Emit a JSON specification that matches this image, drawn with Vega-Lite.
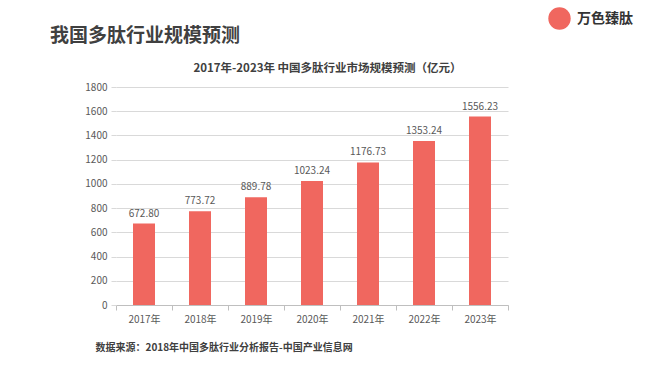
{
  "$schema": "https://vega.github.io/schema/vega-lite/v6.json",
  "width": 392,
  "height": 218,
  "autosize": {"type": "none"},
  "padding": {"left": 116, "top": 87, "right": 142, "bottom": 61},
  "background": "white",
  "config": {"font": "Noto Sans CJK SC", "view": {"stroke": null}},
  "title": {
    "text": "我国多肽行业规模预测",
    "anchor": "start",
    "frame": "group",
    "dx": -66,
    "offset": -39,
    "fontSize": 19,
    "fontWeight": "bold",
    "color": "#404040"
  },
  "data": {
    "values": [
      {"year": "2017年", "value": 672.80, "brand": "万色臻肽"},
      {"year": "2018年", "value": 773.72, "brand": "万色臻肽"},
      {"year": "2019年", "value": 889.78, "brand": "万色臻肽"},
      {"year": "2020年", "value": 1023.24, "brand": "万色臻肽"},
      {"year": "2021年", "value": 1176.73, "brand": "万色臻肽"},
      {"year": "2022年", "value": 1353.24, "brand": "万色臻肽"},
      {"year": "2023年", "value": 1556.23, "brand": "万色臻肽"}
    ]
  },
  "encoding": {
    "x": {
      "field": "year",
      "type": "ordinal",
      "scale": {"paddingInner": 0, "paddingOuter": 0},
      "axis": {
        "title": "数据来源：2018年中国多肽行业分析报告-中国产业信息网",
        "titleAnchor": "start",
        "titleX": -21,
        "titleY": 42,
        "titleAlign": "left",
        "titleBaseline": "middle",
        "titleFontSize": 10,
        "titleFontWeight": "bold",
        "titleColor": "#404040",
        "labelAngle": 0,
        "labelFontSize": 10,
        "labelColor": "#595959",
        "labelPadding": 4,
        "domainColor": "#bfbfbf",
        "tickColor": "#bfbfbf",
        "tickBand": "extent",
        "tickSize": 5
      }
    },
    "y": {
      "field": "value",
      "type": "quantitative",
      "scale": {"domain": [0, 1800]},
      "axis": {
        "title": "2017年-2023年 中国多肽行业市场规模预测（亿元）",
        "titleAngle": 0,
        "titleX": 211,
        "titleY": -19,
        "titleAlign": "center",
        "titleBaseline": "middle",
        "titleFontSize": 11.5,
        "titleFontWeight": "bold",
        "titleColor": "#404040",
        "values": [0, 200, 400, 600, 800, 1000, 1200, 1400, 1600, 1800],
        "format": "d",
        "gridColor": "#d9d9d9",
        "domain": false,
        "tickColor": "#d9d9d9",
        "tickSize": 5,
        "labelPadding": 4,
        "labelFontSize": 10,
        "labelColor": "#595959"
      }
    }
  },
  "layer": [
    {
      "mark": {"type": "bar", "size": 22},
      "encoding": {
        "color": {
          "field": "brand",
          "type": "nominal",
          "scale": {"range": ["#F0675F"]},
          "legend": {
            "orient": "none",
            "legendX": 432,
            "legendY": -80,
            "title": null,
            "symbolType": "circle",
            "symbolSize": 500,
            "symbolStrokeWidth": 0,
            "labelFontSize": 14,
            "labelFontWeight": "bold",
            "labelColor": "#333333",
            "labelOffset": 6
          }
        }
      }
    },
    {
      "mark": {"type": "text", "dy": -5, "baseline": "bottom", "fontSize": 10, "color": "#595959"},
      "encoding": {"text": {"field": "value", "type": "quantitative", "format": ".2f"}}
    }
  ]
}
